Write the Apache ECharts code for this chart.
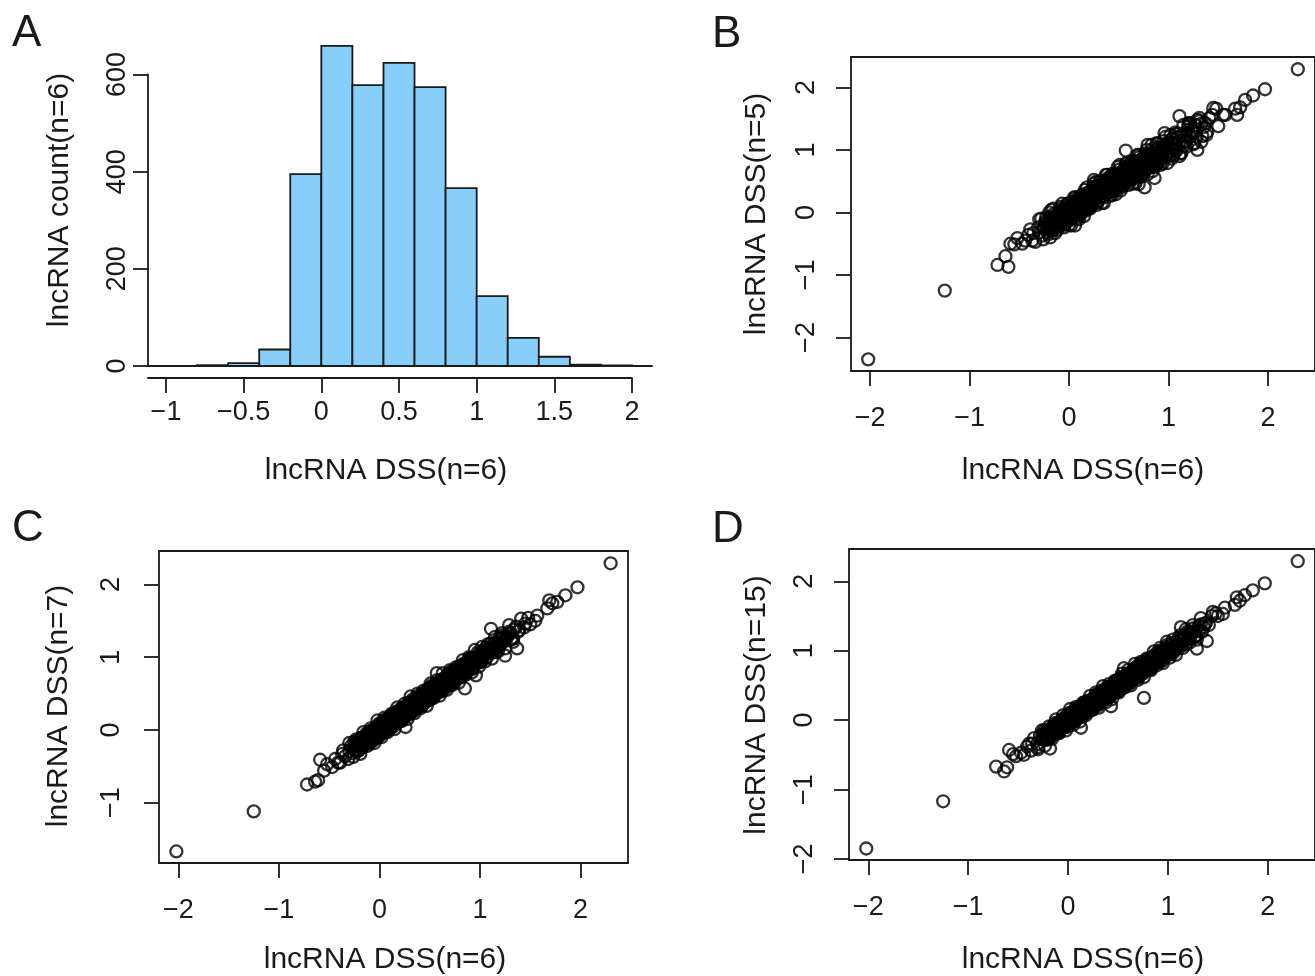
<!DOCTYPE html>
<html>
<head>
<meta charset="utf-8">
<script src="https://cdn.jsdelivr.net/npm/echarts@6/dist/echarts.min.js"></script>
<style>html,body{margin:0;padding:0;background:#fff}#chart{width:1315px;height:976px}</style>
</head>
<body>
<div id="chart"></div>
<script>
// histogram of lncRNA DSS(n=6), bin edges and counts
var breaks = [-0.8, -0.6, -0.4, -0.2, 0, 0.2, 0.4, 0.6, 0.8, 1.0, 1.2, 1.4, 1.6, 1.8, 2.0];
var counts = [2, 6, 34, 395, 659, 578, 624, 574, 366, 144, 58, 19, 3, 1];
var histTicks = [-1, -0.5, 0, 0.5, 1, 1.5, 2];
var countTicks = [0, 200, 400, 600];

// x of the three scatter panels: lncRNA DSS(n=6)
var dss6 = [
-2.02,-1.25,-0.72,-0.64,-0.61,-0.59,-0.55,-0.52,-0.47,-0.44,
-0.41,-0.39,-0.37,-0.36,-0.34,-0.31,-0.30,-0.28,-0.27,-0.25,
-0.24,-0.22,-0.21,-0.20,-0.18,-0.18,-0.17,-0.16,-0.15,-0.14,
-0.13,-0.12,-0.11,-0.10,-0.09,-0.08,-0.08,-0.07,-0.06,-0.05,
-0.05,-0.04,-0.03,-0.03,-0.02,-0.02,-0.01,-0.01,0.00,0.00,
0.01,0.01,0.02,0.02,0.03,0.03,0.04,0.04,0.05,0.05,
0.06,0.06,0.07,0.07,0.08,0.08,0.09,0.09,0.10,0.10,
0.11,0.11,0.12,0.12,0.13,0.13,0.14,0.14,0.15,0.15,
0.16,0.16,0.17,0.17,0.18,0.18,0.19,0.19,0.20,0.20,
0.21,0.21,0.22,0.23,0.23,0.24,0.25,0.25,0.26,0.26,
0.27,0.28,0.28,0.29,0.30,0.30,0.31,0.32,0.32,0.33,
0.34,0.34,0.35,0.36,0.36,0.37,0.37,0.38,0.39,0.39,
0.40,0.40,0.41,0.42,0.42,0.43,0.44,0.44,0.45,0.46,
0.46,0.47,0.48,0.48,0.49,0.50,0.50,0.51,0.52,0.52,
0.53,0.54,0.54,0.55,0.56,0.56,0.57,0.58,0.58,0.59,
0.60,0.60,0.61,0.62,0.62,0.63,0.64,0.64,0.65,0.66,
0.66,0.67,0.68,0.68,0.69,0.70,0.70,0.71,0.72,0.72,
0.73,0.74,0.74,0.75,0.76,0.76,0.77,0.78,0.79,0.79,
0.80,0.81,0.81,0.82,0.83,0.84,0.85,0.86,0.86,0.87,
0.88,0.89,0.90,0.91,0.92,0.93,0.94,0.96,0.97,0.98,
0.99,1.00,1.01,1.03,1.04,1.06,1.07,1.08,1.10,1.11,
1.11,1.13,1.15,1.16,1.18,1.20,1.21,1.23,1.25,1.27,
1.29,1.31,1.34,1.37,1.39,1.41,1.45,1.48,1.50,1.55,
1.57,1.67,1.69,1.72,1.77,1.85,1.97,2.30,
-0.25,-0.24,-0.22,-0.22,-0.21,-0.19,-0.19,-0.18,-0.16,-0.16,-0.15,-0.13,-0.13,-0.12,-0.10,-0.10,-0.09,-0.07,-0.07,-0.06,
-0.04,-0.04,-0.03,-0.01,-0.01,0.00,0.02,0.02,0.03,0.05,0.05,0.06,0.08,0.08,0.09,0.11,0.11,0.12,0.14,0.14,
0.15,0.17,0.17,0.18,0.20,0.20,0.21,0.23,0.23,0.24,0.26,0.26,0.27,0.29,0.29,0.30,0.32,0.32,0.33,0.35,
0.35,0.36,0.38,0.38,0.39,0.41,0.41,0.42,0.44,0.44,0.45,0.47,0.47,0.48,0.50,0.50,0.51,0.53,0.53,0.54,
0.56,0.56,0.57,0.59,0.59,0.60,0.62,0.62,0.63,0.65,0.65,0.66,0.68,0.68,0.69,0.71,0.71,0.72,0.74,0.74,
0.75,0.77,0.77,0.78,0.80,0.80,0.81,0.83,0.83,0.84,0.86,0.86,0.87,0.89,0.89,0.90,0.92,0.92,0.93,0.95,
0.96,0.98,0.99,1.00,1.02,1.03,1.05,1.06,1.08,1.09,1.12,1.14,1.17,1.19,1.22,1.24,1.28,1.33,1.36,1.44,
-0.30,-0.26,-0.23,-0.19,-0.16,-0.12,-0.09,-0.05,-0.02,0.02,0.05,0.08,0.12,0.15,0.18,0.22,0.25,0.28,0.31,0.35,
0.38,0.41,0.44,0.47,0.51,0.54,0.57,0.60,0.63,0.67,0.70,0.73,0.76,0.79,0.83,0.86,0.89,0.92,0.95,0.99,
1.02,1.05,1.08,1.12,1.15,1.18,1.22,1.25,1.29,1.33,
-0.20,-0.14,-0.07,0.00,0.06,0.10,0.16,0.21,0.27,0.33,0.37,0.43,0.49,0.52,0.58,
0.64,0.69,0.72,0.78,0.84,0.88,0.94,0.97,1.03,1.07,1.13,1.20,1.26,1.31,1.38
];

// panel B: lncRNA DSS(n=5)
var dss5 = [
-2.35,-1.25,-0.84,-0.70,-0.87,-0.50,-0.51,-0.41,-0.50,-0.45,
-0.36,-0.27,-0.45,-0.33,-0.47,-0.24,-0.32,-0.10,-0.37,-0.24,
-0.15,-0.27,-0.35,-0.15,0.04,-0.25,-0.17,-0.27,-0.02,-0.10,
-0.17,-0.04,-0.23,-0.08,-0.15,0.06,-0.17,-0.01,-0.07,0.05,
-0.20,0.08,-0.11,0.00,-0.15,0.05,-0.03,0.14,-0.10,0.01,
0.10,-0.04,-0.12,0.07,0.14,-0.04,0.04,-0.07,0.18,0.09,
-0.21,0.14,-0.05,0.09,0.02,0.22,0.00,0.15,0.09,0.20,
-0.04,0.23,0.04,0.15,0.00,0.20,0.12,0.29,0.05,0.16,
0.25,0.11,0.03,0.22,0.29,0.11,0.19,0.08,0.33,0.24,
0.20,0.32,0.13,0.28,0.20,0.41,0.52,0.34,0.28,0.39,
0.15,0.43,0.23,0.35,0.20,0.40,0.32,0.50,0.25,0.37,
0.46,0.32,0.24,0.44,0.50,0.33,0.40,0.30,0.55,0.46,
0.39,0.51,0.32,0.47,0.39,0.60,0.38,0.53,0.47,0.59,
0.34,0.62,0.43,0.54,0.39,0.60,0.51,0.69,0.45,0.56,
0.65,0.52,0.43,0.63,0.70,0.52,0.99,0.50,0.74,0.66,
0.59,0.71,0.52,0.67,0.59,0.80,0.58,0.73,0.67,0.79,
0.54,0.82,0.63,0.74,0.59,0.45,0.71,0.89,0.65,0.76,
0.85,0.72,0.63,0.83,0.40,0.72,0.80,0.70,1.08,0.86,
0.79,0.92,0.72,0.87,0.80,1.01,0.79,0.55,0.88,1.00,
0.76,1.04,0.85,0.97,0.82,1.03,0.95,1.27,0.90,1.02,
1.11,0.98,0.90,1.11,1.18,1.02,1.10,1.00,1.26,1.54,
0.90,1.24,1.06,1.21,1.15,1.37,1.40,1.32,1.27,1.40,
1.00,1.46,1.22,1.43,1.29,1.51,1.67,1.66,1.38,1.56,
1.56,1.66,1.56,1.68,1.80,1.87,1.97,2.29,
-0.25,-0.17,-0.31,-0.18,-0.24,-0.08,-0.25,-0.16,-0.28,-0.08,-0.16,-0.08,-0.20,-0.02,-0.14,-0.07,-0.19,-0.01,-0.09,0.03,
-0.04,0.03,-0.12,0.03,-0.04,0.11,-0.04,0.04,-0.09,0.13,0.04,0.11,0.01,0.18,0.05,0.14,0.01,0.18,0.12,0.23,
0.15,0.24,0.08,0.22,0.17,0.31,0.18,0.28,0.14,0.35,0.28,0.34,0.23,0.42,0.28,0.36,0.25,0.41,0.34,0.47,
0.38,0.46,0.32,0.45,0.39,0.55,0.38,0.47,0.35,0.55,0.47,0.55,0.43,0.61,0.49,0.56,0.44,0.62,0.54,0.66,
0.59,0.66,0.51,0.66,0.59,0.74,0.59,0.67,0.54,0.76,0.67,0.74,0.64,0.81,0.68,0.77,0.64,0.81,0.75,0.86,
0.78,0.87,0.71,0.85,0.80,0.94,0.78,0.88,0.74,0.95,0.88,0.94,0.83,1.02,0.88,0.96,0.85,1.01,0.94,1.07,
0.99,1.08,0.93,1.07,1.02,1.17,1.02,1.11,0.99,1.20,1.14,1.22,1.13,1.32,1.21,1.30,1.21,1.42,1.37,1.56,
-0.11,-0.43,-0.08,-0.40,0.06,-0.28,0.09,-0.24,0.14,-0.21,0.24,-0.09,0.27,-0.06,0.40,0.09,0.46,0.12,0.50,0.15,
0.60,0.27,0.62,0.29,0.76,0.41,0.78,0.44,0.82,0.47,0.92,0.59,0.94,0.61,1.08,0.73,1.10,0.76,1.14,0.79,
1.24,0.91,1.26,0.94,1.40,1.05,1.43,1.09,1.48,1.13,
0.00,-0.33,0.14,-0.20,0.24,-0.11,0.36,0.06,0.49,0.15,0.60,0.27,0.73,0.35,0.79,
0.46,0.92,0.57,1.00,0.66,1.11,0.78,1.21,0.86,1.28,0.95,1.43,1.11,1.51,1.24
];

// panel C: lncRNA DSS(n=7)
var dss7 = [
-1.67,-1.12,-0.75,-0.71,-0.69,-0.41,-0.56,-0.47,-0.51,-0.40,
-0.45,-0.45,-0.33,-0.28,-0.36,-0.40,-0.29,-0.22,-0.32,-0.16,
-0.27,-0.20,-0.29,-0.15,-0.19,-0.11,-0.24,-0.13,-0.19,-0.14,
-0.05,-0.18,-0.06,-0.19,-0.07,-0.01,-0.11,-0.03,-0.14,-0.04,
0.01,-0.10,0.01,0.05,-0.04,-0.11,0.00,0.05,-0.05,0.09,
-0.02,0.03,-0.06,0.07,0.02,0.10,-0.03,0.07,0.01,0.05,
0.14,0.00,0.12,-0.02,0.10,0.15,0.06,0.13,0.02,0.11,
0.17,0.05,0.16,0.20,0.11,0.04,0.15,0.20,0.10,0.24,
0.13,0.18,0.09,0.22,0.17,0.25,0.12,0.22,0.16,0.20,
0.29,0.15,0.27,0.14,0.25,0.31,0.22,0.29,0.04,0.27,
0.33,0.22,0.32,0.37,0.28,0.21,0.32,0.38,0.27,0.42,
0.31,0.36,0.27,0.41,0.35,0.44,0.30,0.41,0.35,0.39,
0.48,0.34,0.46,0.33,0.44,0.50,0.41,0.48,0.37,0.47,
0.52,0.41,0.52,0.56,0.47,0.41,0.51,0.57,0.47,0.61,
0.50,0.56,0.46,0.60,0.55,0.63,0.78,0.61,0.54,0.59,
0.68,0.54,0.66,0.53,0.64,0.70,0.61,0.68,0.57,0.67,
0.72,0.61,0.72,0.76,0.67,0.61,0.71,0.77,0.67,0.81,
0.70,0.76,0.66,0.80,0.75,0.83,0.70,0.81,0.75,0.79,
0.88,0.75,0.86,0.73,0.85,0.91,0.57,0.90,0.78,0.88,
0.94,0.83,0.94,0.99,0.90,0.84,0.95,0.75,0.92,1.07,
0.96,1.02,0.93,1.08,1.03,1.13,1.00,1.11,1.06,1.39,
1.19,1.07,1.20,1.07,1.20,1.27,1.18,1.27,1.02,1.28,
1.35,1.25,1.38,1.12,1.37,1.53,1.46,1.54,1.45,1.50,
1.57,1.67,1.78,1.74,1.76,1.85,1.96,2.29,
-0.22,-0.29,-0.16,-0.23,-0.28,-0.15,-0.19,-0.11,-0.19,-0.14,-0.21,-0.08,-0.12,-0.16,-0.02,-0.12,-0.05,-0.15,-0.01,-0.09,
-0.01,-0.09,0.03,-0.02,-0.08,0.04,0.02,0.09,0.00,0.07,-0.01,0.11,0.09,0.04,0.17,0.09,0.15,0.04,0.20,0.11,
0.18,0.12,0.23,0.17,0.13,0.24,0.21,0.30,0.20,0.26,0.20,0.31,0.28,0.25,0.37,0.28,0.36,0.24,0.39,0.32,
0.38,0.31,0.44,0.37,0.32,0.45,0.41,0.49,0.41,0.46,0.39,0.52,0.48,0.44,0.58,0.48,0.55,0.45,0.59,0.51,
0.59,0.51,0.63,0.58,0.52,0.64,0.62,0.69,0.60,0.67,0.59,0.71,0.69,0.64,0.77,0.69,0.75,0.64,0.80,0.71,
0.78,0.72,0.83,0.77,0.73,0.84,0.81,0.90,0.80,0.86,0.80,0.91,0.88,0.85,0.97,0.88,0.96,0.84,0.99,0.92,
0.99,0.93,1.05,0.99,0.95,1.07,1.05,1.13,1.05,1.11,1.06,1.19,1.18,1.15,1.30,1.22,1.32,1.25,1.42,1.41,
-0.18,-0.37,-0.13,-0.33,-0.03,-0.22,0.02,-0.18,0.13,-0.10,0.17,-0.03,0.22,0.01,0.31,0.12,0.36,0.15,0.46,0.23,
0.50,0.30,0.54,0.33,0.64,0.44,0.68,0.47,0.78,0.55,0.82,0.62,0.86,0.65,0.96,0.76,1.00,0.79,1.10,0.87,
1.14,0.94,1.18,0.98,1.28,1.08,1.33,1.12,1.44,1.21,
-0.18,-0.17,-0.04,-0.02,0.08,0.07,0.19,0.19,0.29,0.30,0.40,0.41,0.51,0.49,0.61,
0.62,0.71,0.69,0.81,0.82,0.90,0.91,1.00,1.01,1.09,1.10,1.23,1.24,1.33,1.35
];

// panel D: lncRNA DSS(n=15)
var dss15 = [
-1.85,-1.17,-0.67,-0.74,-0.68,-0.43,-0.49,-0.52,-0.47,-0.50,
-0.38,-0.34,-0.44,-0.34,-0.26,-0.35,-0.39,-0.22,-0.27,-0.27,
-0.15,-0.28,-0.18,-0.28,-0.41,-0.17,-0.22,-0.12,-0.18,-0.06,
-0.20,-0.10,-0.12,-0.04,-0.18,-0.03,-0.12,-0.04,0.01,-0.11,
-0.05,0.01,-0.10,-0.01,0.06,-0.06,-0.10,0.05,0.00,-0.02,
0.10,-0.05,0.05,-0.06,0.10,0.04,-0.01,0.08,0.02,0.13,
-0.01,0.08,0.06,0.13,-0.01,0.13,0.05,0.12,0.17,0.04,
0.11,0.16,0.05,0.14,0.21,-0.11,0.05,0.20,0.15,0.13,
0.25,0.10,0.20,0.09,0.25,0.19,0.14,0.23,0.17,0.28,
0.14,0.23,0.21,0.29,0.14,0.29,0.21,0.28,0.33,0.20,
0.27,0.33,0.21,0.31,0.38,0.26,0.22,0.38,0.32,0.31,
0.43,0.28,0.38,0.28,0.43,0.38,0.32,0.42,0.36,0.47,
0.33,0.42,0.40,0.48,0.33,0.20,0.40,0.47,0.52,0.40,
0.46,0.52,0.41,0.50,0.57,0.46,0.41,0.57,0.52,0.50,
0.62,0.48,0.57,0.47,0.75,0.57,0.52,0.62,0.55,0.67,
0.53,0.62,0.60,0.68,0.53,0.68,0.60,0.67,0.72,0.60,
0.66,0.72,0.61,0.70,0.77,0.66,0.61,0.77,0.72,0.70,
0.82,0.68,0.77,0.67,0.32,0.77,0.72,0.82,0.76,0.87,
0.73,0.83,0.80,0.88,0.74,0.89,0.81,0.89,0.93,0.81,
0.88,0.94,0.83,0.93,1.00,0.89,0.85,1.02,0.97,0.96,
1.08,0.94,1.04,0.95,1.11,1.07,1.02,1.12,1.07,1.19,
1.04,1.34,1.14,1.22,1.09,1.25,1.17,1.26,1.32,1.21,
1.03,1.36,1.27,1.39,1.14,1.37,1.56,1.54,1.50,1.53,
1.62,1.66,1.77,1.72,1.80,1.87,1.97,2.29,
-0.27,-0.19,-0.28,-0.19,-0.14,-0.23,-0.18,-0.26,-0.12,-0.17,-0.09,-0.18,-0.11,-0.04,-0.13,-0.10,-0.16,-0.02,-0.09,0.00,
-0.06,0.01,-0.09,0.02,0.06,-0.04,0.03,-0.06,0.07,0.04,0.11,0.01,0.10,0.16,0.06,0.11,0.04,0.17,0.12,0.20,
0.13,0.22,0.11,0.21,0.27,0.16,0.22,0.15,0.27,0.23,0.32,0.21,0.29,0.37,0.26,0.30,0.25,0.37,0.31,0.41,
0.33,0.41,0.32,0.41,0.46,0.37,0.42,0.34,0.48,0.43,0.51,0.42,0.49,0.56,0.47,0.50,0.44,0.58,0.51,0.60,
0.54,0.61,0.51,0.62,0.66,0.56,0.63,0.54,0.67,0.64,0.71,0.61,0.70,0.76,0.66,0.71,0.64,0.77,0.72,0.80,
0.73,0.82,0.71,0.81,0.87,0.76,0.82,0.75,0.87,0.83,0.92,0.81,0.89,0.97,0.86,0.90,0.85,0.97,0.91,1.01,
0.94,1.03,0.93,1.03,1.09,0.99,1.06,0.98,1.12,1.08,1.18,1.09,1.19,1.27,1.19,1.24,1.21,1.38,1.34,1.50,
-0.42,-0.15,-0.37,-0.09,-0.27,0.01,-0.19,0.07,-0.15,0.16,-0.07,0.19,-0.02,0.25,0.07,0.35,0.15,0.40,0.18,0.49,
0.26,0.52,0.30,0.57,0.40,0.67,0.47,0.72,0.50,0.81,0.58,0.84,0.62,0.89,0.72,0.99,0.79,1.04,0.82,1.13,
0.90,1.16,0.94,1.22,1.04,1.31,1.12,1.37,1.16,1.47,
-0.22,-0.11,-0.10,0.02,0.04,0.13,0.13,0.23,0.25,0.36,0.34,0.45,0.47,0.55,0.55,
0.66,0.67,0.75,0.75,0.86,0.86,0.97,0.94,1.05,1.05,1.16,1.17,1.28,1.29,1.40
];
var scatterTicks = [-2, -1, 0, 1, 2];
var scatterTicksC = [-1, 0, 1, 2];

var FONT = 'Liberation Sans, Arial, Helvetica, sans-serif';
var INK = '#1a1a1a';

function minus(v) { return v < 0 ? '\u2212' + (-v) : String(v); }
function pairs(xs, ys) { return xs.map(function (x, i) { return [x, ys[i]]; }); }

function tickAxis(grid, min, max, ticks, margin, rotate, lineShow) {
  return {
    type: 'value', gridIndex: grid, min: min, max: max,
    axisLine: { show: !!lineShow, onZero: false, lineStyle: { color: INK, width: 1.8 } },
    axisTick: { show: true, customValues: ticks, length: 15, lineStyle: { color: INK, width: 1.8 } },
    axisLabel: { show: true, customValues: ticks, formatter: minus, margin: margin, rotate: rotate || 0,
      fontFamily: FONT, fontSize: 27, color: INK },
    splitLine: { show: false }
  };
}

function dots(axis, ys) {
  return {
    type: 'scatter', xAxisIndex: axis, yAxisIndex: axis, data: pairs(dss6, ys),
    symbol: 'circle', symbolSize: 12, silent: true,
    itemStyle: { color: 'rgba(0,0,0,0)', borderColor: '#000', borderWidth: 2.3 }
  };
}

function label(txt, x, y, size, rot, align) {
  return { type: 'text', x: x, y: y, rotation: rot || 0,
    style: { text: txt, fontFamily: FONT, fontSize: size, fill: INK,
      align: align || 'center', verticalAlign: 'middle' } };
}

var box = { show: true, borderColor: INK, borderWidth: 1.8, backgroundColor: 'rgba(0,0,0,0)' };

var chart = echarts.init(document.getElementById('chart'), null, { renderer: 'canvas' });
chart.setOption({
  backgroundColor: '#fff',
  animation: false,
  grid: [
    { left: 148, top: 74.5, width: 504, height: 291.5 },
    { left: 148, top: 377, width: 484, height: 1 },
    Object.assign({ left: 851, top: 57, width: 469, height: 314 }, box),
    Object.assign({ left: 159, top: 551, width: 469, height: 312 }, box),
    Object.assign({ left: 849, top: 549, width: 469, height: 311 }, box)
  ],
  xAxis: [
    { type: 'value', gridIndex: 0, min: -1.1159, max: 2.1288,
      axisLine: { show: true, onZero: false, lineStyle: { color: INK, width: 1.8 } },
      axisTick: { show: false }, axisLabel: { show: false }, splitLine: { show: false } },
    tickAxis(1, -1.1159, 2, histTicks, 21, 0, true),
    tickAxis(2, -2.1928, 2.4728, scatterTicks, 34),
    tickAxis(3, -2.1928, 2.4728, scatterTicks, 34),
    tickAxis(4, -2.1928, 2.4728, scatterTicks, 34)
  ],
  yAxis: [
    tickAxis(0, 0, 600, countTicks, 17, 90, true),
    { type: 'value', gridIndex: 1, min: 0, max: 1, show: false },
    tickAxis(2, -2.536, 2.486, scatterTicks, 31, 90),
    tickAxis(3, -1.829, 2.459, scatterTicksC, 34, 90),
    tickAxis(4, -2.016, 2.466, scatterTicks, 31, 90)
  ],
  series: [
    {
      type: 'custom', xAxisIndex: 0, yAxisIndex: 0, clip: false, silent: true,
      data: counts.map(function (c, i) { return [breaks[i], breaks[i + 1], c]; }),
      encode: { x: [0, 1], y: 2 },
      renderItem: function (params, api) {
        var p0 = api.coord([api.value(0), api.value(2)]);
        var p1 = api.coord([api.value(1), 0]);
        return { type: 'rect',
          shape: { x: p0[0], y: p0[1], width: p1[0] - p0[0], height: p1[1] - p0[1] },
          style: { fill: '#87CEFA', stroke: INK, lineWidth: 1.8 } };
      }
    },
    dots(2, dss5),
    dots(3, dss7),
    dots(4, dss15)
  ],
  graphic: [
    label('A', 12, 34, 44, 0, 'left'),
    label('B', 712, 35, 44, 0, 'left'),
    label('C', 12, 529, 44, 0, 'left'),
    label('D', 712, 530, 44, 0, 'left'),
    label('lncRNA DSS(n=6)', 386, 471, 30),
    label('lncRNA DSS(n=6)', 1083, 471, 30),
    label('lncRNA DSS(n=6)', 385, 960, 30),
    label('lncRNA DSS(n=6)', 1083, 960, 30),
    label('lncRNA count(n=6)', 60, 200, 30, Math.PI / 2),
    label('lncRNA DSS(n=5)', 757, 214, 30, Math.PI / 2),
    label('lncRNA DSS(n=7)', 59, 706, 30, Math.PI / 2),
    label('lncRNA DSS(n=15)', 757, 705, 30, Math.PI / 2)
  ]
});
</script>
</body>
</html>
